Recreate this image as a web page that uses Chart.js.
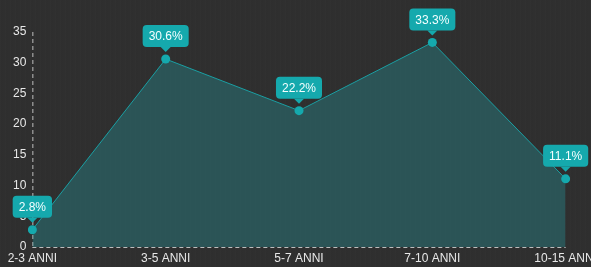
<!DOCTYPE html>
<html>
<head>
<meta charset="utf-8">
<script src="https://cdn.jsdelivr.net/npm/chart.js@4.4.1/dist/chart.umd.min.js"></script>
<style>
html,body{margin:0;padding:0;background:#2e2e2e}
.wrap{width:591px;height:267px;overflow:hidden;position:relative;
  background-color:#2f2f2f;
  background-image:repeating-linear-gradient(90deg,rgba(255,255,255,0.008) 0 1px,rgba(0,0,0,0.012) 1px 3px,rgba(255,255,255,0) 3px 5px)}
.box{position:absolute;left:0;top:0;width:601px;height:267px}
</style>
</head>
<body>
<div class="wrap"><div class="box"><canvas id="c"></canvas></div></div>
<script>
const categories = ['2-3 ANNI', '3-5 ANNI', '5-7 ANNI', '7-10 ANNI', '10-15 ANNI'];
const values = [2.8, 30.6, 22.2, 33.3, 11.1];
const yTicks = [0, 5, 10, 15, 20, 25, 30, 35];

const teal = '#15a9ad';
const font = "'Liberation Sans', Arial, sans-serif";

// dashed left and bottom axis lines
const dashedAxes = {
  id: 'dashedAxes',
  beforeDatasetsDraw(chart) {
    const { ctx, chartArea: a } = chart;
    ctx.save();
    ctx.strokeStyle = 'rgba(225,225,225,0.8)';
    ctx.lineWidth = 1;
    ctx.setLineDash([4, 3]);
    ctx.beginPath();
    ctx.moveTo(a.left + 0.5, a.top);
    ctx.lineTo(a.left + 0.5, a.bottom);
    ctx.moveTo(a.left, a.bottom + 0.5);
    ctx.lineTo(a.right, a.bottom + 0.5);
    ctx.stroke();
    ctx.restore();
  }
};

// always-on value bubbles over each point
const bubbles = {
  id: 'bubbles',
  afterDatasetsDraw(chart) {
    const ctx = chart.ctx;
    const meta = chart.getDatasetMeta(0);
    ctx.save();
    ctx.font = '12px ' + font;
    meta.data.forEach((pt, i) => {
      const txt = values[i].toFixed(1) + '%';
      const w = ctx.measureText(txt).width + 12;
      const h = 22;
      const tip = pt.y - 7;
      const bottom = tip - 5;
      const x = pt.x - w / 2, y = bottom - h;
      ctx.fillStyle = teal;
      ctx.beginPath();
      ctx.roundRect(x, y, w, h, 4);
      ctx.fill();
      ctx.beginPath();
      ctx.moveTo(pt.x - 5, bottom);
      ctx.lineTo(pt.x, tip);
      ctx.lineTo(pt.x + 5, bottom);
      ctx.closePath();
      ctx.fill();
      ctx.fillStyle = '#f4ffff';
      ctx.textAlign = 'center';
      ctx.textBaseline = 'middle';
      ctx.fillText(txt, pt.x, y + h / 2 + 1);
    });
    ctx.restore();
  }
};

new Chart(document.getElementById('c'), {
  type: 'line',
  data: {
    labels: categories,
    datasets: [{
      data: values,
      borderColor: '#1a9fa3',
      borderWidth: 1,
      backgroundColor: 'rgba(37,155,160,0.35)',
      fill: 'origin',
      tension: 0,
      pointRadius: 4.5,
      pointBackgroundColor: teal,
      pointBorderWidth: 0,
      pointHoverRadius: 4.5
    }]
  },
  options: {
    responsive: true,
    maintainAspectRatio: false,
    animation: false,
    events: [],
    layout: { padding: { left: 7, top: 32, right: 0, bottom: 0 } },
    plugins: { legend: { display: false }, tooltip: { enabled: false } },
    scales: {
      x: {
        offset: false,
        afterFit: s => { s.height = 20; },
        grid: { display: false, drawTicks: false },
        border: { display: false },
        ticks: { color: '#e8e8e8', font: { family: font, size: 12 }, padding: 4, maxRotation: 0, autoSkip: false }
      },
      y: {
        min: 0,
        max: 35,
        afterBuildTicks: s => { s.ticks = yTicks.map(v => ({ value: v })); },
        grid: { display: false, drawTicks: false },
        border: { display: false },
        ticks: { color: '#e8e8e8', font: { family: font, size: 12 }, padding: 6 }
      }
    }
  },
  plugins: [dashedAxes, bubbles]
});
</script>
</body>
</html>
